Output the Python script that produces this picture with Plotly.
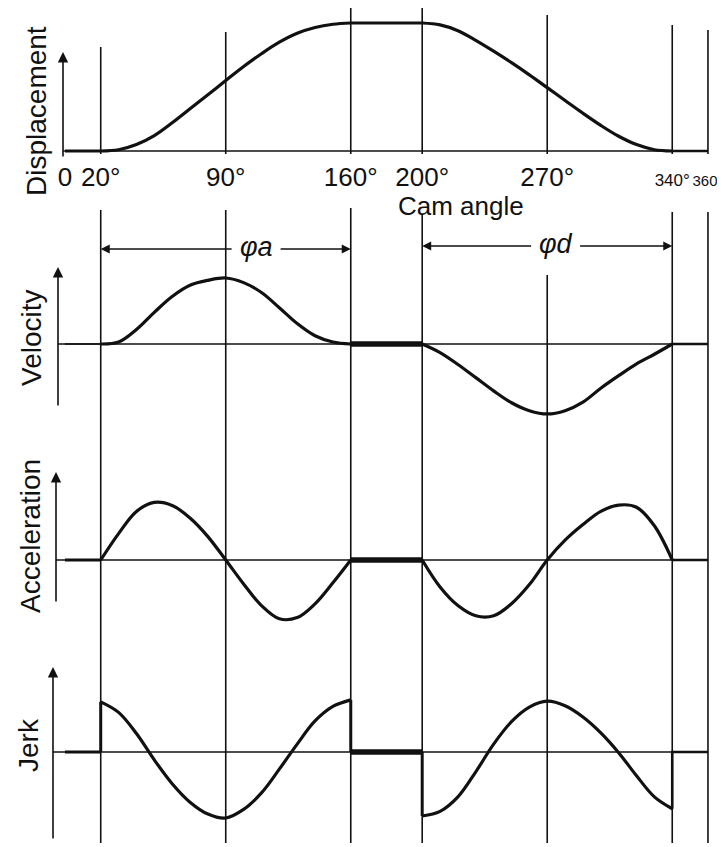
import plotly.graph_objects as go

# ---------------- data ----------------
tick_angles = [0, 20, 90, 160, 200, 270, 340, 360]
tick_labels = ["0", "20°", "90°", "160°", "200°", "270°", "340°", "360°"]
guide_angles = [20, 90, 160, 200, 270, 340, 360]

rise_angles = [20, 30, 40, 50, 60, 70, 80, 90, 100, 110, 120, 130, 140, 150, 160]
return_angles = [200, 210, 220, 230, 240, 250, 260, 270, 280, 290, 300, 310, 320, 330, 340]

disp_rise = [0, 0.01, 0.05, 0.12, 0.22, 0.33, 0.44, 0.55, 0.66, 0.76, 0.85, 0.92, 0.965, 0.99, 1.0]
disp_return = [1.0, 0.985, 0.94, 0.865, 0.78, 0.69, 0.595, 0.495, 0.395, 0.295, 0.2, 0.115, 0.05, 0.01, 0]

vel_rise = [0, 0.03, 0.22, 0.48, 0.72, 0.89, 0.965, 1.0, 0.93, 0.78, 0.55, 0.31, 0.125, 0.03, 0]
vel_return = [0, -0.13, -0.31, -0.51, -0.71, -0.89, -1.01, -1.06, -1.01, -0.88, -0.67, -0.48, -0.30, -0.155, 0]

acc_rise = [0, 0.44, 0.81, 0.96, 0.91, 0.70, 0.39, 0, -0.40, -0.76, -0.98, -0.96, -0.73, -0.38, 0]
acc_return = [0, -0.45, -0.76, -0.93, -0.93, -0.73, -0.41, 0, 0.33, 0.59, 0.81, 0.915, 0.88, 0.57, 0]

jerk_rise = [0.76, 0.60, 0.28, -0.12, -0.48, -0.76, -0.94, -1.0, -0.87, -0.62, -0.26, 0.12, 0.47, 0.69, 0.79]
jerk_return = [-0.97, -0.90, -0.68, -0.30, 0.12, 0.46, 0.68, 0.77, 0.70, 0.53, 0.29, -0.01, -0.36, -0.68, -0.86]

panel_names = ["Displacement", "Velocity", "Acceleration", "Jerk"]
panel_rise = [disp_rise, vel_rise, acc_rise, jerk_rise]
panel_return = [disp_return, vel_return, acc_return, jerk_return]
dwell_level = [1.0, 0, 0, 0]      # level held between rise and return
rest_level = [0, 0, 0, 0]         # level held before rise / after return

# ---------------- layout geometry (pixel positions of the 725x847 page) ----------------
PAGE_W, PAGE_H = 725, 847
OFF = 8                           # default page margin around the figure
FW, FH = PAGE_W - OFF, PAGE_H - OFF
PX0, PXD = 65.0, 1.786            # page pixel of 0 deg, pixels per degree


def deg(px):
    return (px - PX0) / PXD


def pxp(px):                      # page x pixel -> paper
    return (px - OFF) / FW


def pyp(p):                       # page y pixel -> paper
    return min(1.0, max(0.0, 1 - (p - OFF) / FH))


panels = [
    dict(top=8, bottom=158, base=151, unit=128, label=(36, 111), arrow=(63, 52, 158), rest_w=3),
    dict(top=230, bottom=430, base=344, unit=66, label=(31, 338), arrow=(58, 267, 407), rest_w=1.6),
    dict(top=440, bottom=640, base=560, unit=60, label=(30, 536), arrow=(56, 472, 603), rest_w=3),
    dict(top=650, bottom=847, base=752, unit=66, label=(28, 745), arrow=(53, 667, 840), rest_w=3),
]

FONT = "Liberation Sans, Arial, sans-serif"
BLACK = "#111111"

fig = go.Figure()
layout = dict(
    width=FW, height=FH, margin=dict(l=0, r=0, t=0, b=0),
    paper_bgcolor="white", plot_bgcolor="rgba(0,0,0,0)", showlegend=False,
    font=dict(family=FONT, color=BLACK),
)

annotations = []
shapes = []
xr = [deg(OFF), deg(PAGE_W)]

for i, p in enumerate(panels):
    n = "" if i == 0 else str(i + 1)
    xa, ya = "x" + n, "y" + n
    top_px, bot_px = max(p["top"], OFF), p["bottom"]
    layout["xaxis" + n] = dict(
        domain=[0, 1], range=xr, anchor=ya, showgrid=False, zeroline=False,
        showline=False, visible=(i == 0),
    )
    layout["yaxis" + n] = dict(
        domain=[pyp(bot_px), pyp(top_px)],
        range=[(p["base"] - bot_px) / p["unit"], (p["base"] - top_px) / p["unit"]],
        anchor=xa, visible=False, showgrid=False, zeroline=False,
    )
    rise, ret = panel_rise[i], panel_return[i]
    ax_px = p["arrow"][0]

    def add(x, y, w, shape="linear"):
        fig.add_trace(go.Scatter(
            x=x, y=y, mode="lines", xaxis=xa, yaxis=ya, hoverinfo="skip",
            line=dict(color=BLACK, width=w, shape=shape, smoothing=1.0),
        ))

    # baseline (thin)
    add([deg(ax_px), tick_angles[-1]], [0, 0], 1.6)
    # rest before rise + step into rise
    add([tick_angles[0], rise_angles[0]], [rest_level[i], rest_level[i]], p["rest_w"])
    add([rise_angles[0], rise_angles[0]], [rest_level[i], rise[0]], 3)
    # rise & return curves
    add(rise_angles, rise, 3.2, "spline")
    add(return_angles, ret, 3.2, "spline")
    # steps into / out of dwell
    add([rise_angles[-1], rise_angles[-1]], [rise[-1], dwell_level[i]], 3)
    add([return_angles[0], return_angles[0]], [dwell_level[i], ret[0]], 3)
    # dwell
    add([rise_angles[-1], return_angles[0]], [dwell_level[i], dwell_level[i]],
        3.2 if i == 0 else 5.5)
    # step out of return + rest to 360
    add([return_angles[-1], return_angles[-1], tick_angles[-1]],
        [ret[-1], rest_level[i], rest_level[i]], 2.6)

    # y-axis arrow
    x_a, t_a, b_a = p["arrow"]
    annotations.append(dict(
        x=pxp(x_a), y=pyp(t_a), xref="paper", yref="paper", text="",
        showarrow=True, ax=0, ay=b_a - t_a, axref="pixel", ayref="pixel",
        arrowhead=2, arrowsize=1.3, arrowwidth=1.6, arrowcolor=BLACK, standoff=0,
    ))
    # panel label
    lx, ly = p["label"]
    annotations.append(dict(
        x=pxp(lx), y=pyp(ly), xref="paper", yref="paper", text=panel_names[i],
        showarrow=False, textangle=-90, xanchor="center", yanchor="middle",
        font=dict(size=28, family=FONT, color=BLACK),
    ))

# tick labels on the top panel's x axis (the last two are squeezed in the reference)
small = {340: 17, 360: 15}
ticktext = []
for a, t in zip(tick_angles, tick_labels):
    if a in small:
        ticktext.append(f"<span style='font-size:{small[a]}px'>{t}</span>")
    else:
        ticktext.append(t)
layout["xaxis"].update(
    tickmode="array", tickvals=tick_angles, ticktext=ticktext, tickangle=0,
    ticks="", tickfont=dict(size=26, family=FONT, color=BLACK), ticklabelstandoff=1,
    ticklabeloverflow="allow",
)

# "Cam angle"
annotations.append(dict(
    x=222, y=pyp(206), xref="x", yref="paper", text="Cam angle", showarrow=False,
    xanchor="center", yanchor="middle", font=dict(size=26, family=FONT, color=BLACK),
))

# vertical guide lines
guide_top = {20: 47, 90: 32, 160: 8, 200: 8, 270: 15, 340: 25, 360: 30}
guide_low_start = {20: 210, 90: 210, 160: 208, 200: 214, 270: 275, 340: 212, 360: 212}
for a in guide_angles:
    shapes.append(dict(type="line", xref="x", yref="paper", x0=a, x1=a,
                       y0=pyp(guide_top[a]), y1=pyp(panels[0]["base"] + 3),
                       line=dict(color=BLACK, width=1.6)))
    shapes.append(dict(type="line", xref="x", yref="paper", x0=a, x1=a,
                       y0=pyp(guide_low_start[a]), y1=pyp(843),
                       line=dict(color=BLACK, width=1.6)))

# phi_a / phi_d dimension arrows
phi = [
    dict(text="<i>φa</i>", center=107, y=249, left=rise_angles[0], right=rise_angles[-1]),
    dict(text="<i>φd</i>", center=274.7, y=246, left=return_angles[0], right=return_angles[-1]),
]
for d in phi:
    cpx = PX0 + d["center"] * PXD
    annotations.append(dict(
        x=d["center"], y=pyp(d["y"] - 2), xref="x", yref="paper", text=d["text"],
        showarrow=False, xanchor="center", yanchor="middle",
        font=dict(size=27, family=FONT, color=BLACK),
    ))
    for head, tail_px in ((d["left"], cpx - 23), (d["right"], cpx + 23)):
        annotations.append(dict(
            x=head, y=pyp(d["y"]), xref="x", yref="paper", text="",
            showarrow=True, ax=deg(tail_px), ay=0, axref="x", ayref="pixel",
            arrowhead=2, arrowsize=1.2, arrowwidth=1.5, arrowcolor=BLACK, standoff=0,
        ))

layout["annotations"] = annotations
layout["shapes"] = shapes
fig.update_layout(**layout)
fig.write_html("out.html")
